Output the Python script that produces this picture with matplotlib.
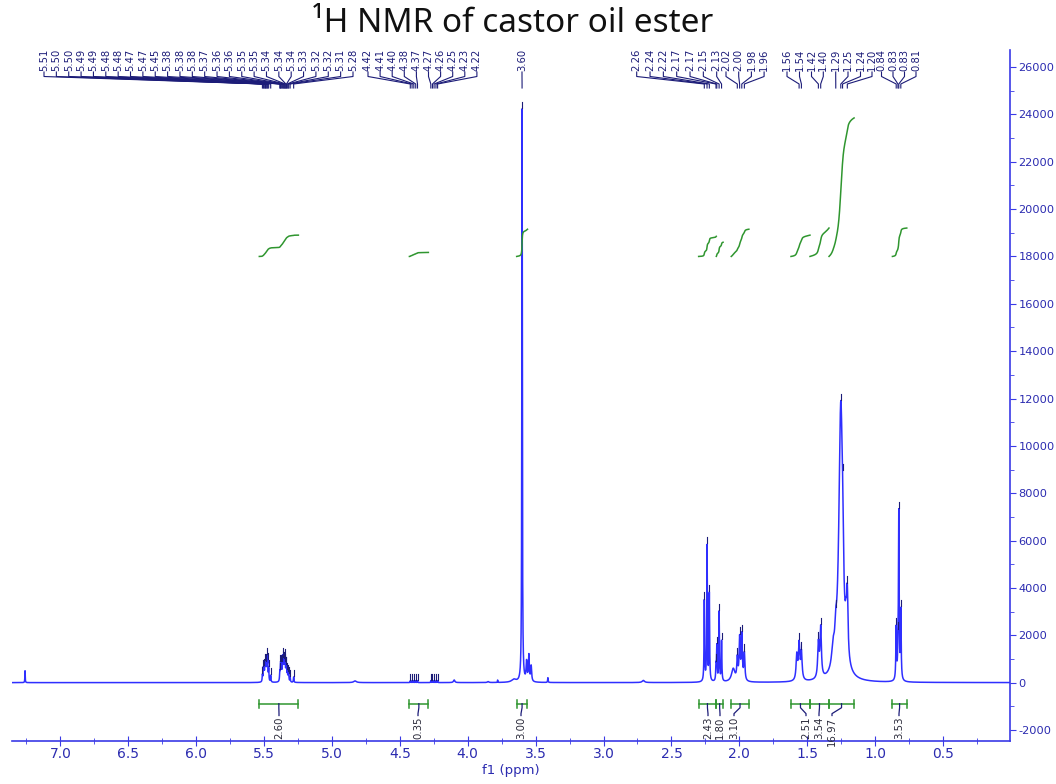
import numpy as np
import matplotlib
matplotlib.use('Agg')
import matplotlib.pyplot as plt
from matplotlib.transforms import blended_transform_factory
from matplotlib.ticker import MultipleLocator

# ---------------- data ----------------
# spectrum peaks: position (ppm), height (intensity), half width (ppm)
peak_ppm = [7.260,
            5.512, 5.505, 5.500, 5.494, 5.489, 5.484, 5.478, 5.473, 5.466, 5.451,
            5.384, 5.379, 5.376, 5.370, 5.363, 5.358, 5.353, 5.348, 5.344, 5.339,
            5.335, 5.329, 5.323, 5.318, 5.308, 5.282,
            4.830, 4.423, 4.410, 4.397, 4.383, 4.370, 4.272, 4.260, 4.248, 4.234, 4.222,
            4.100, 3.850, 3.780, 3.660, 3.600, 3.567, 3.550, 3.533, 3.410, 2.707,
            2.258, 2.238, 2.221, 2.172, 2.166, 2.149, 2.131,
            2.045, 2.015, 1.998, 1.982, 1.963,
            1.577, 1.560, 1.543, 1.418, 1.401,
            1.310, 1.290, 1.253, 1.240, 1.215, 1.205,
            0.845, 0.832, 0.826, 0.811]
peak_height = [500,
               280, 520, 480, 680, 560, 640, 920, 720, 520, 280,
               360, 560, 520, 640, 920, 680, 640, 760, 520, 440,
               560, 360, 320, 240, 200, 230,
               70, 80, 80, 80, 80, 80, 80, 80, 80, 80, 80,
               110, 40, 100, 120, 24200, 800, 1100, 650, 200, 90,
               3400, 5700, 3700, 600, 1450, 2950, 1700,
               550, 900, 1750, 1900, 1150,
               1050, 1500, 1150, 1450, 2100,
               800, 900, 11500, 1500, 900, 2600,
               2200, 800, 7000, 2900]
peak_hwhm = [0.0015,
             0.0022, 0.0022, 0.0022, 0.0022, 0.0022, 0.0022, 0.0022, 0.0022, 0.0022, 0.0022,
             0.0022, 0.0022, 0.0022, 0.0022, 0.0022, 0.0022, 0.0022, 0.0022, 0.0022, 0.0022,
             0.0022, 0.0022, 0.0022, 0.0022, 0.0022, 0.0022,
             0.012, 0.0015, 0.0015, 0.0015, 0.0015, 0.0015, 0.0015, 0.0015, 0.0015, 0.0015, 0.0015,
             0.006, 0.006, 0.0015, 0.02, 0.0022, 0.004, 0.004, 0.004, 0.002, 0.01,
             0.0024, 0.0024, 0.0024, 0.0025, 0.0025, 0.0025, 0.0025,
             0.015, 0.0045, 0.0045, 0.0045, 0.0045,
             0.006, 0.006, 0.006, 0.006, 0.006,
             0.012, 0.008, 0.017, 0.006, 0.006, 0.006,
             0.003, 0.003, 0.0028, 0.003]

# picked-peak labels (text) and the peak each one points to
pick_text = ['5.51', '5.50', '5.50', '5.49', '5.49', '5.48', '5.48', '5.47', '5.47', '5.45',
             '5.38', '5.38', '5.38', '5.37', '5.36', '5.36', '5.35', '5.35', '5.34', '5.34',
             '5.34', '5.33', '5.32', '5.32', '5.31', '5.28',
             '4.42', '4.41', '4.40', '4.38', '4.37', '4.27', '4.26', '4.25', '4.23', '4.22',
             '3.60',
             '2.26', '2.24', '2.22', '2.17', '2.17', '2.15', '2.13',
             '2.02', '2.00', '1.98', '1.96',
             '1.56', '1.54', '1.42', '1.40', '1.29', '1.25', '1.24', '1.20',
             '0.84', '0.83', '0.83', '0.81']
pick_ppm = [5.512, 5.505, 5.500, 5.494, 5.489, 5.484, 5.478, 5.473, 5.466, 5.451,
            5.384, 5.379, 5.376, 5.370, 5.363, 5.358, 5.353, 5.348, 5.344, 5.339,
            5.335, 5.329, 5.323, 5.318, 5.308, 5.282,
            4.423, 4.410, 4.397, 4.383, 4.370, 4.272, 4.260, 4.248, 4.234, 4.222,
            3.600,
            2.258, 2.238, 2.221, 2.172, 2.166, 2.149, 2.131,
            2.015, 1.998, 1.982, 1.963,
            1.560, 1.543, 1.418, 1.401, 1.290, 1.253, 1.240, 1.205,
            0.845, 0.832, 0.826, 0.811]

# integral regions: start ppm, end ppm, curve rise, integral value
integ_start = [5.535, 4.43, 3.64, 2.30, 2.17, 2.06, 1.62, 1.48, 1.34, 0.873]
integ_end = [5.247, 4.29, 3.56, 2.17, 2.12, 1.93, 1.48, 1.34, 1.155, 0.767]
integ_rise = [900, 170, 1150, 850, 600, 1150, 900, 1200, 5850, 1200]
integ_value = ['2.60', '0.35', '3.00', '2.43', '1.80', '3.10', '2.51', '3.54', '16.97', '3.53']

# ---------------- layout ----------------
W, H = 1056, 784
AX_L, AX_R, AX_T, AX_B = 12, 1010, 50, 741
X0, X1 = 7.356, 0.007
Y0, Y1 = -2466, 26720

def px2ppm(px):
    return X0 - (px - AX_L) / (AX_R - AX_L) * (X0 - X1)

def fy(py):
    return 1 - py / H

# label anchor pixels (layout of the peak-label row)
label_px = ([44 + 12.36 * i for i in range(26)] +
            [368 + 12.1 * i for i in range(10)] +
            [522] +
            [636.7 + 13.33 * i for i in range(7)] +
            [726 + 12.7 * i for i in range(4)] +
            [787, 799.5, 811.5, 823.3, 835.7, 848, 860.5, 872, 881.5, 893, 904.5, 916])
integ_text_px = [279, 418, 521, 708, 720, 734, 806, 819, 832, 899]

SPEC = '#2f2fff'
AXC = '#3a3ae6'
TICKC = '#2b2bb0'
LABC = '#1c1c78'
GREEN = '#2f962f'
FONT = ['DejaVu Sans']

fig = plt.figure(figsize=(W / 100, H / 100), dpi=100)
ax = fig.add_axes([AX_L / W, 1 - AX_B / H, (AX_R - AX_L) / W, (AX_B - AX_T) / H])
ax.set_xlim(X0, X1)
ax.set_ylim(Y0, Y1)

# spectrum
x = np.arange(X0, X1, -0.0004)
spec = np.zeros_like(x)
for p, h, w in zip(peak_ppm, peak_height, peak_hwhm):
    spec += h * w * w / ((x - p) ** 2 + w * w)
ax.plot(x, spec, color=SPEC, lw=1.1, zorder=3)

# integral curves
for s, e, r in zip(integ_start, integ_end, integ_rise):
    m = (x <= s) & (x >= e)
    cs = np.cumsum(spec[m])
    ax.plot(x[m], 18000 + cs / cs[-1] * r, color=GREEN, lw=1.1, zorder=3)

# integral brackets below baseline
ybr = -890
for s, e, v, tpx in zip(integ_start, integ_end, integ_value, integ_text_px):
    c = (s + e) / 2
    tx = px2ppm(tpx)
    ax.plot([s, e], [ybr, ybr], color=GREEN, lw=1.1)
    ax.plot([s, s], [ybr - 170, ybr + 170], color=GREEN, lw=1.1)
    ax.plot([e, e], [ybr - 170, ybr + 170], color=GREEN, lw=1.1)
    ax.plot([c, c, tx, tx], [ybr, ybr - 170, ybr - 420, ybr - 500], color=LABC, lw=0.9)
    ax.text(tx, ybr - 560, v, rotation=90, ha='center', va='top', fontsize=7.3,
            color='#2a2a3a', family=FONT)

# picked-peak markers, labels and leaders
btr = blended_transform_factory(ax.transData, fig.transFigure)
for t, p, lpx in zip(pick_text, pick_ppm, label_px):
    lx = px2ppm(lpx)
    h = np.interp(p, x[::-1], spec[::-1])
    ax.plot([p, p], [h + 40, h + 300], color=LABC, lw=0.8, zorder=4)
    ax.text(lx, fy(71), t, rotation=90, ha='center', va='bottom', fontsize=7.2,
            color=LABC, family=FONT, transform=btr)
    ax.plot([lx, lx, p, p], [fy(72), fy(76.5), fy(84), fy(88)], color=LABC, lw=0.8,
            transform=btr, clip_on=False)

# axes styling
for sp in ['top', 'left']:
    ax.spines[sp].set_visible(False)
ax.spines['bottom'].set_color(AXC)
ax.spines['right'].set_color(AXC)
ax.spines['bottom'].set_linewidth(1.2)
ax.spines['right'].set_linewidth(1.2)
ax.yaxis.tick_right()
ax.xaxis.set_minor_locator(MultipleLocator(0.25))
ax.yaxis.set_minor_locator(MultipleLocator(1000))
xt = np.arange(0.5, 7.01, 0.5)
ax.set_xticks(xt)
ax.set_xticklabels([f'{v:.1f}' for v in xt], family=FONT)
yt = np.arange(-2000, 26001, 2000)
ax.set_yticks(yt)
ax.set_yticklabels([f'{v:d}' for v in yt], family=FONT)
ax.tick_params(axis='x', which='major', direction='inout', length=7, color=AXC,
               labelcolor=TICKC, labelsize=10, pad=1)
ax.tick_params(axis='x', which='minor', direction='inout', length=5, color=AXC)
ax.tick_params(axis='y', which='major', direction='out', length=4, color=AXC,
               labelcolor=TICKC, labelsize=8.2, pad=2)
ax.tick_params(axis='y', which='minor', direction='out', length=3, color=AXC)
ax.set_xlabel('f1 (ppm)', color=TICKC, fontsize=9.5, family=FONT, labelpad=2)

fig.text(513 / W, fy(23), '\u00b9H NMR of castor oil ester', ha='center', va='center',
         fontsize=24, family=['Noto Sans', 'DejaVu Sans'], color='#111111')

fig.savefig('out.png', dpi=100)
